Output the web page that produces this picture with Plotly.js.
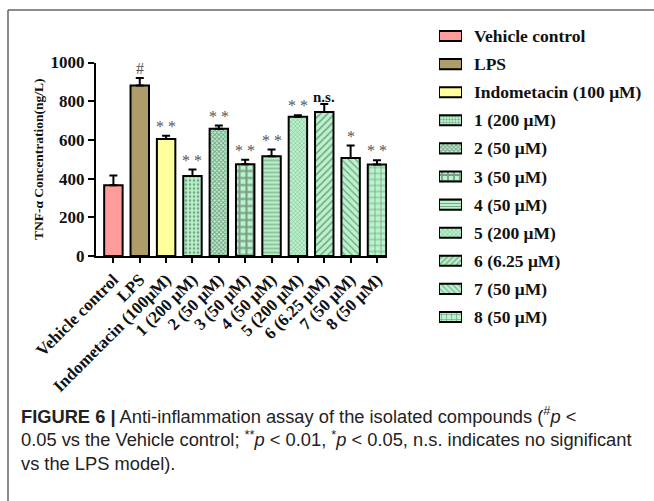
<!DOCTYPE html>
<html>
<head>
<meta charset="utf-8">
<script src="https://cdn.plot.ly/plotly-3.0.1.min.js"></script>
<style>html,body{margin:0;padding:0;background:#fff;}#chart{width:654px;height:501px;}</style>
</head>
<body>
<div id="chart"></div>
<script>
// ---- data ----
const categories = ['Vehicle control','LPS','Indometacin (100μM)','1 (200 μM)','2 (50 μM)','3 (50 μM)','4 (50 μM)','5 (200 μM)','6 (6.25 μM)','7 (50 μM)','8 (50 μM)'];
const legendLabels = ['Vehicle control','LPS','Indometacin (100 μM)','1 (200 μM)','2 (50 μM)','3 (50 μM)','4 (50 μM)','5 (200 μM)','6 (6.25 μM)','7 (50 μM)','8 (50 μM)'];
const values = [366, 881, 605, 414, 657, 474, 515, 720, 744, 507, 473];
const errors = [50, 39, 17, 33, 17, 23, 35, 7, 42, 64, 22];
const significance = ['', '#', '* *', '* *', '* *', '* *', '* *', '* *', 'n.s.', '*', '* *'];
const yTicks = [0, 200, 400, 600, 800, 1000];

// ---- styles ----
const mint = '#B6F4CA';
const fillColors = ['#FF9B9B', '#AE9D6B', '#FFFF9E', mint, mint, mint, mint, mint, mint, mint, mint];
const patShapes = ['', '', '', '.', 'x', '+', '-', 'x', '/', '\\', '+'];
const patFg = ['#000', '#000', '#000', '#D2E8BE', '#CDBA92', '#CFB387', '#D2BC93', '#96DCAB', '#92D9A8', '#C8D0A8', '#D0B892'];
const patSize = [8, 8, 8, 4, 3, 7, 4, 3, 5, 5, 6];
const patSolid = [0.3, 0.3, 0.3, 0.35, 0.5, 0.5, 0.3, 0.25, 0.3, 0.25, 0.25];

const serif = 'Liberation Serif, Times New Roman, serif';
// pixel helpers for the plot area (l=96, r=192, t=22, b=170)
const L = 96, T = 22, W = 654 - 96 - 192, H = 501 - 22 - 170;
const px2x = p => (p - L) / W;
const px2y = p => (T + H - p) / H;

const zeros = errors.map(() => 0);

const mainTrace = {
  type: 'bar', x: categories, y: values, width: 0.7,
  xaxis: 'x', yaxis: 'y',
  marker: {
    color: fillColors,
    line: {color: '#000', width: 2},
    pattern: {shape: patShapes, fgcolor: patFg, bgcolor: fillColors, size: patSize, solidity: patSolid, fillmode: 'overlay'}
  },
  error_y: {type: 'data', symmetric: false, array: errors, arrayminus: zeros, color: '#000', thickness: 2, width: 4},
  hoverinfo: 'skip', showlegend: false
};

const legendTrace = {
  type: 'bar', orientation: 'h', y: legendLabels, x: legendLabels.map(() => 1), width: 0.36,
  xaxis: 'x2', yaxis: 'y2',
  marker: {
    color: fillColors,
    line: {color: '#000', width: 2},
    pattern: {shape: patShapes, fgcolor: patFg, bgcolor: fillColors, size: patSize.map(s => Math.max(3, s - 1)), solidity: patSolid, fillmode: 'overlay'}
  },
  hoverinfo: 'skip', showlegend: false
};

const annotations = [];
categories.forEach((c, i) => {
  if (!significance[i]) return;
  const ns = significance[i] === 'n.s.';
  annotations.push({
    xref: 'x', yref: 'y', x: c, y: values[i] + errors[i],
    text: ns ? '<b>n.s.</b>' : significance[i],
    showarrow: false, yanchor: 'bottom', yshift: ns ? -3 : -1,
    font: {family: serif, size: ns ? 15 : 16, color: ns ? '#111' : '#555555'}
  });
});
legendLabels.forEach((lab) => {
  annotations.push({
    xref: 'paper', yref: 'y2', x: px2x(472), y: lab, xanchor: 'left', yanchor: 'middle',
    text: lab, showarrow: false,
    font: {family: serif, size: 17.5, weight: 'bold', color: '#111'}
  });
});
annotations.push({
  xref: 'paper', yref: 'paper', x: px2x(19), y: px2y(401), xanchor: 'left', yanchor: 'top', align: 'left',
  showarrow: false,
  text: '<b>FIGURE 6 |</b> Anti-inflammation assay of the isolated compounds (<sup>#</sup><i>p</i> &lt;<br>' +
        '0.05 vs the Vehicle control; <sup>**</sup><i>p</i> &lt; 0.01, <sup>*</sup><i>p</i> &lt; 0.05, n.s. indicates no significant<br>' +
        'vs the LPS model).',
  font: {family: 'Liberation Sans Narrow, Arial Narrow, Liberation Sans, Arial, sans-serif', size: 18.3, color: '#222'}
});

const layout = {
  width: 654, height: 501,
  margin: {l: L, r: 192, t: T, b: 170, pad: 0},
  paper_bgcolor: '#fff', plot_bgcolor: 'rgba(0,0,0,0)',
  showlegend: false,
  barmode: 'overlay',
  font: {family: serif, color: '#111'},
  xaxis: {
    domain: [0, px2x(387)], range: [-0.66, 10.38], type: 'category',
    tickvals: categories, ticktext: categories,
    showline: true, linecolor: '#000', linewidth: 2,
    ticks: 'outside', ticklen: 5, tickwidth: 2, tickcolor: '#000',
    tickangle: -45, tickfont: {family: serif, size: 17, weight: 'bold', color: '#111'},
    showgrid: false, zeroline: false, fixedrange: true
  },
  yaxis: {
    domain: [px2y(256), px2y(62.5)], range: [0, 1000],
    tickvals: yTicks, ticktext: yTicks.map(String),
    showline: true, linecolor: '#000', linewidth: 2,
    ticks: 'outside', ticklen: 6, tickwidth: 2, tickcolor: '#000',
    tickfont: {family: serif, size: 17, weight: 'bold', color: '#111'},
    showgrid: false, zeroline: false, fixedrange: true,
    title: {text: 'TNF-α Concentration(ng/L)', font: {family: serif, size: 13.5, weight: 'bold', color: '#111'}, standoff: 4}
  },
  xaxis2: {domain: [px2x(439), px2x(462)], range: [0, 1], anchor: 'y2', visible: false, fixedrange: true},
  yaxis2: {domain: [0, 1], range: [10.5, -0.5], type: 'category', anchor: 'x2', visible: false, fixedrange: true},
  shapes: [
    {type: 'line', xref: 'paper', yref: 'paper', x0: px2x(8), x1: px2x(660), y0: px2y(10), y1: px2y(10), line: {color: '#666', width: 1.5}},
    {type: 'line', xref: 'paper', yref: 'paper', x0: px2x(8), x1: px2x(8), y0: px2y(10), y1: px2y(510), line: {color: '#666', width: 1.5}}
  ],
  annotations: annotations
};

Plotly.newPlot('chart', [mainTrace, legendTrace], layout, {staticPlot: true, displayModeBar: false});
</script>
</body>
</html>
